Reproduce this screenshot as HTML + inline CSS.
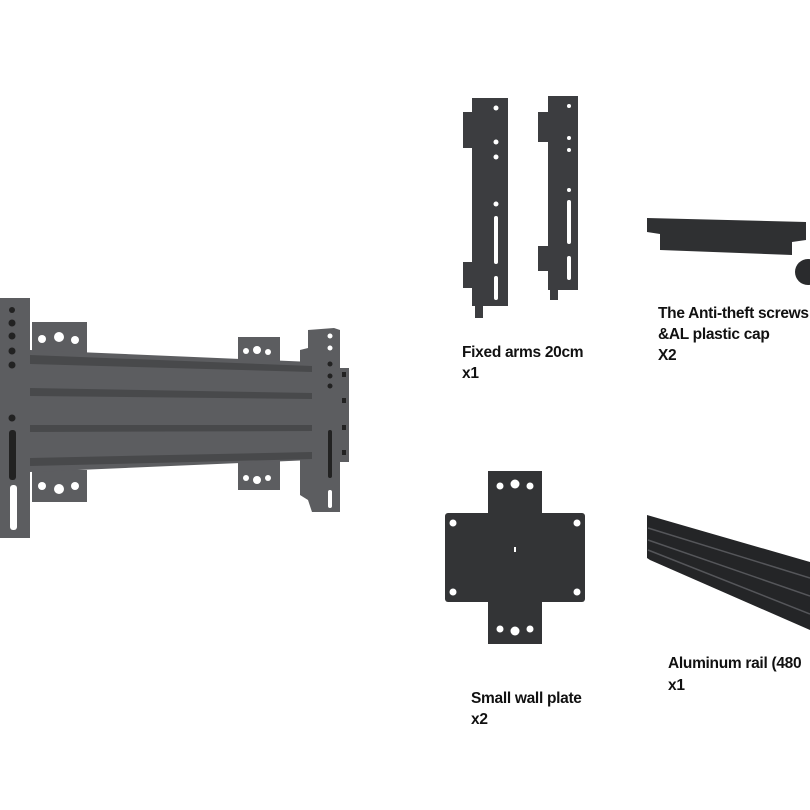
<!DOCTYPE html>
<html><head><style>
html,body{margin:0;padding:0;background:#fff;}
svg{display:block}
text{font-family:"Liberation Sans",sans-serif;font-weight:bold;font-size:15.5px;fill:#111;letter-spacing:-0.3px}
</style></head><body>
<svg width="810" height="810" viewBox="0 0 810 810">
<g fill="#5c5d60">
<rect x="32" y="322" width="55" height="32"/>
<rect x="32" y="470" width="55" height="32"/>
<rect x="238" y="337" width="42" height="27"/>
<rect x="238" y="460" width="42" height="30"/>
<polygon points="30,350 312,362 312,460 30,472"/>
<rect x="340" y="368" width="9" height="94"/>
<polygon points="308,330 334,328 340,330 340,512 312,512 308,500 300,495 300,350 308,348"/>
<rect x="0" y="298" width="30" height="240"/>
</g>
<g fill="#48494b">
<polygon points="30,355 312,366 312,372 30,364"/>
<polygon points="30,388 312,393 312,399 30,396"/>
<polygon points="30,425 312,425 312,431 30,432"/>
<polygon points="30,458 312,452 312,459 30,466"/>
</g>
<g fill="#fff">
<circle cx="42" cy="339" r="4"/><circle cx="59" cy="337" r="5"/><circle cx="75" cy="340" r="4"/>
<circle cx="42" cy="486" r="4"/><circle cx="59" cy="489" r="5"/><circle cx="75" cy="486" r="4"/>
<circle cx="246" cy="351" r="3"/><circle cx="257" cy="350" r="4"/><circle cx="268" cy="352" r="3"/>
<circle cx="246" cy="478" r="3"/><circle cx="257" cy="480" r="4"/><circle cx="268" cy="478" r="3"/>
<rect x="10" y="485" width="7" height="45" rx="3"/>
<circle cx="330" cy="336" r="2.5"/><circle cx="330" cy="348" r="2.5"/>
<rect x="328" y="490" width="4" height="18" rx="2"/>
</g>
<g fill="#222">
<circle cx="12" cy="310" r="3"/><circle cx="12" cy="323" r="3.5"/><circle cx="12" cy="336" r="3.5"/><circle cx="12" cy="351" r="3.5"/><circle cx="12" cy="365" r="3.5"/>
<circle cx="12" cy="418" r="3.5"/><rect x="9" y="430" width="7" height="50" rx="3"/>
<rect x="342" y="372" width="4" height="5"/><rect x="342" y="398" width="4" height="5"/><rect x="342" y="425" width="4" height="5"/><rect x="342" y="450" width="4" height="5"/>
<circle cx="330" cy="364" r="2.5"/><circle cx="330" cy="376" r="2.5"/><circle cx="330" cy="386" r="2.5"/>
<rect x="328" y="430" width="4" height="48" rx="2"/>
</g>
<g fill="#3c3d40">
<rect x="472" y="98" width="36" height="208"/>
<rect x="463" y="112" width="12" height="36"/>
<rect x="463" y="262" width="12" height="26"/>
<rect x="475" y="306" width="8" height="12"/>
<rect x="548" y="96" width="30" height="194"/>
<rect x="538" y="112" width="12" height="30"/>
<rect x="538" y="246" width="12" height="25"/>
<rect x="550" y="290" width="8" height="10"/>
</g>
<g fill="#fff">
<circle cx="496" cy="108" r="2.5"/><circle cx="496" cy="142" r="2.5"/><circle cx="496" cy="157" r="2.5"/>
<circle cx="496" cy="204" r="2.5"/><rect x="494" y="216" width="4" height="48" rx="2"/><rect x="494" y="276" width="4" height="24" rx="2"/>
<circle cx="569" cy="106" r="2"/><circle cx="569" cy="138" r="2"/><circle cx="569" cy="150" r="2"/><circle cx="569" cy="190" r="2"/>
<rect x="567" y="200" width="4" height="44" rx="2"/><rect x="567" y="256" width="4" height="24" rx="2"/>
</g>
<polygon fill="#2f3032" points="647,218 806,222 806,240 792,242 792,255 660,250 660,234 647,232"/>
<circle cx="808" cy="272" r="13" fill="#2a2b2d"/>
<g fill="#333436">
<rect x="488" y="471" width="54" height="173"/>
<rect x="445" y="513" width="140" height="89" rx="3"/>
</g>
<g fill="#fff">
<circle cx="500" cy="486" r="3.5"/><circle cx="515" cy="484" r="4.5"/><circle cx="530" cy="486" r="3.5"/>
<circle cx="500" cy="629" r="3.5"/><circle cx="515" cy="631" r="4.5"/><circle cx="530" cy="629" r="3.5"/>
<circle cx="453" cy="523" r="3.5"/><circle cx="577" cy="523" r="3.5"/><circle cx="453" cy="592" r="3.5"/><circle cx="577" cy="592" r="3.5"/>
<rect x="514" y="547" width="2" height="5"/>
</g>
<polygon fill="#242527" points="647,515 810,562 810,630 650,560 647,558"/>
<g stroke="#55565a" stroke-width="1.5">
<line x1="648" y1="528" x2="810" y2="578"/><line x1="648" y1="540" x2="810" y2="596"/><line x1="648" y1="550" x2="810" y2="614"/>
</g>
<text x="462" y="357">Fixed arms 20cm</text>
<text x="462" y="378">x1</text>
<text x="658" y="318">The Anti-theft screws</text>
<text x="658" y="339">&amp;AL plastic cap</text>
<text x="658" y="360">X2</text>
<text x="668" y="668">Aluminum rail (480</text>
<text x="668" y="690">x1</text>
<text x="471" y="703">Small wall plate</text>
<text x="471" y="724">x2</text>
</svg>
</body></html>
